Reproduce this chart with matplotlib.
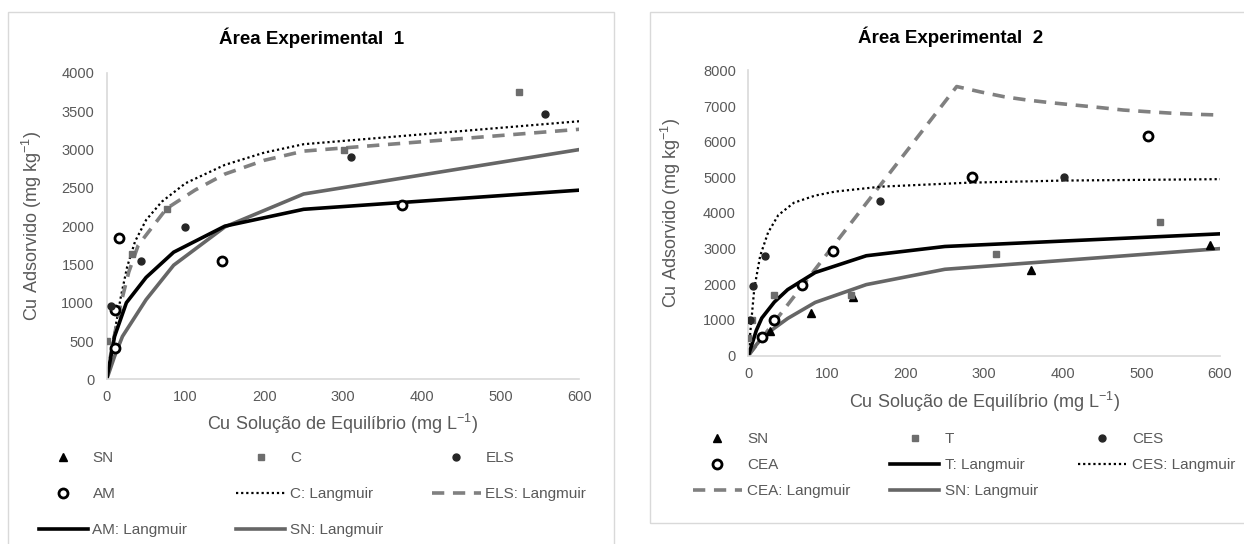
import matplotlib
matplotlib.use('Agg')
import matplotlib.pyplot as plt
from matplotlib.patches import Rectangle

plt.rcParams['font.family'] = ['Liberation Sans', 'DejaVu Sans']
plt.rcParams['mathtext.default'] = 'regular'

W, H = 1244, 544

# ---- Área Experimental 1 ----
sn1_x, sn1_y = [], []
c1_x = [1, 32, 77, 301, 524]
c1_y = [500, 1640, 2230, 3000, 3750]
els1_x = [6, 44, 99, 310, 557]
els1_y = [955, 1540, 1990, 2905, 3460]
am1_x = [10, 11, 16, 146, 375]
am1_y = [910, 415, 1845, 1540, 2270]

c1_lx = [0, 3, 9, 18, 26, 36, 50, 70, 100, 150, 200, 250, 600]
c1_ly = [0, 180, 560, 1080, 1470, 1800, 2080, 2320, 2560, 2800, 2960, 3070, 3370]
els1_lx = [0, 6, 18, 28, 40, 76, 112, 150, 200, 250, 600]
els1_ly = [0, 380, 990, 1400, 1750, 2230, 2470, 2680, 2860, 2980, 3265]
am1_lx = [0, 10, 25, 50, 85, 150, 250, 600]
am1_ly = [0, 560, 1000, 1330, 1660, 2000, 2220, 2470]
sn1_lx = [0, 10, 20, 50, 85, 150, 250, 600]
sn1_ly = [0, 300, 560, 1040, 1490, 1990, 2420, 3000]

# ---- Área Experimental 2 ----
sn2_x = [28, 80, 133, 360, 587]
sn2_y = [700, 1200, 1650, 2390, 3100]
t2_x = [0, 4, 32, 130, 315, 524]
t2_y = [500, 1000, 1700, 1700, 2845, 3760]
ces2_x = [2, 6, 21, 167, 401]
ces2_y = [1000, 1950, 2790, 4330, 5020]
cea2_x = [17, 33, 68, 108, 284, 508]
cea2_y = [510, 1000, 1990, 2940, 5000, 6160]

t2_lx = [0, 10, 17, 33, 50, 85, 150, 250, 600]
t2_ly = [0, 700, 1050, 1500, 1850, 2330, 2800, 3060, 3415]
ces2_lx = [0, 2.5, 7.5, 15, 25, 38, 58, 85, 110, 169, 279, 400, 600]
ces2_ly = [0, 670, 1880, 2800, 3450, 3940, 4290, 4490, 4600, 4740, 4850, 4910, 4950]
cea2_lx = [0, 265, 295, 325, 355, 385, 415, 445, 477, 507, 540, 570, 600]
cea2_ly = [0, 7550, 7400, 7265, 7170, 7095, 7030, 6965, 6890, 6845, 6800, 6770, 6750]
sn2_lx = [0, 10, 20, 50, 85, 150, 250, 600]
sn2_ly = [0, 300, 560, 1040, 1490, 1990, 2420, 3000]

TXT = '#595959'
AXC = '#d9d9d9'

black_solid = dict(color='black', lw=2.6, solid_joinstyle='miter')
gray_solid = dict(color='#666666', lw=2.6, solid_joinstyle='miter')
dotted = dict(color='black', lw=1.6, linestyle=(0, (1, 1.3)))
dashed = dict(color='#808080', lw=2.6, linestyle=(0, (3.4, 2.4)))
tri = dict(marker='^', color='black', ms=5.5, ls='none')
sq = dict(marker='s', color='#6d6d6d', ms=5, ls='none')
dot = dict(marker='o', color='#262626', ms=5, ls='none')
ring = dict(marker='o', mfc='white', mec='black', mew=2, ms=6.5, ls='none')

fig = plt.figure(figsize=(W / 100, H / 100), dpi=100)

# panel frames
fig.add_artist(Rectangle((8 / W, 1 - 600 / H), 606 / W, 588 / H, transform=fig.transFigure,
                         fill=False, ec=AXC, lw=1))
fig.add_artist(Rectangle((650 / W, 1 - 523 / H), 620 / W, 511 / H, transform=fig.transFigure,
                         fill=False, ec=AXC, lw=1))

ax1 = fig.add_axes([106.7 / W, 1 - 379.3 / H, 472.6 / W, 306.3 / H])
ax2 = fig.add_axes([748.4 / W, 1 - 355.5 / H, 471.6 / W, 285 / H])


def style(ax, ymax, ystep):
    ax.set_xlim(0, 600)
    ax.set_ylim(0, ymax)
    ax.set_xticks(range(0, 601, 100))
    ax.set_yticks(range(0, ymax + 1, ystep))
    for s in ['top', 'right']:
        ax.spines[s].set_visible(False)
    for s in ['left', 'bottom']:
        ax.spines[s].set_color(AXC)
        ax.spines[s].set_linewidth(1.2)
    ax.tick_params(length=0, labelsize=10.5, labelcolor=TXT)
    ax.tick_params(axis='y', pad=9)
    ax.tick_params(axis='x', pad=8)
    ax.set_ylabel('Cu Adsorvido (mg kg$^{-1}$)', fontsize=13, color=TXT)
    ax.set_xlabel('Cu Solução de Equilíbrio (mg L$^{-1}$)', fontsize=13, color=TXT, va='center')


# left chart
style(ax1, 4000, 500)
h_sn1, = ax1.plot(sn1_x, sn1_y, label='SN', **tri)
h_c1, = ax1.plot(c1_x, c1_y, label='C', **sq)
h_els1, = ax1.plot(els1_x, els1_y, label='ELS', **dot)
h_cl1, = ax1.plot(c1_lx, c1_ly, label='C: Langmuir', **dotted)
h_elsl1, = ax1.plot(els1_lx, els1_ly, label='ELS: Langmuir', **dashed)
h_snl1, = ax1.plot(sn1_lx, sn1_ly, label='SN: Langmuir', **gray_solid)
h_aml1, = ax1.plot(am1_lx, am1_ly, label='AM: Langmuir', **black_solid)
h_am1, = ax1.plot(am1_x, am1_y, label='AM', **ring)
for h in (h_c1, h_els1):
    h.set_zorder(4)
ax1.xaxis.set_label_coords(0.5, -0.146)
ax1.yaxis.set_label_coords(-0.133, 0.5)
fig.text(311.5 / W, 1 - 38 / H, 'Área Experimental  1', ha='center', va='center',
         fontsize=13.5, fontweight='bold')

# right chart
style(ax2, 8000, 1000)
h_sn2, = ax2.plot(sn2_x, sn2_y, label='SN', **tri)
h_t2, = ax2.plot(t2_x, t2_y, label='T', **sq)
h_ces2, = ax2.plot(ces2_x, ces2_y, label='CES', **dot)
h_ceal2, = ax2.plot(cea2_lx, cea2_ly, label='CEA: Langmuir', **dashed)
h_cesl2, = ax2.plot(ces2_lx, ces2_ly, label='CES: Langmuir', **dotted)
h_snl2, = ax2.plot(sn2_lx, sn2_ly, label='SN: Langmuir', **gray_solid)
h_tl2, = ax2.plot(t2_lx, t2_ly, label='T: Langmuir', **black_solid)
h_cea2, = ax2.plot(cea2_x, cea2_y, label='CEA', **ring)
for h in (h_sn2, h_t2, h_ces2):
    h.set_zorder(4)
ax2.xaxis.set_label_coords(0.5, -0.163)
ax2.yaxis.set_label_coords(-0.139, 0.5)
fig.text(951 / W, 1 - 37 / H, 'Área Experimental  2', ha='center', va='center',
         fontsize=13.5, fontweight='bold')

# legends (column-major order to reproduce Excel's row layout)
leg1 = [h_sn1, h_am1, h_aml1, h_c1, h_cl1, h_snl1, h_els1, h_elsl1]
fig.legend(leg1, [h.get_label() for h in leg1], ncol=3, frameon=False,
           loc='upper left', bbox_to_anchor=(39 / W, 1 - 451 / H),
           fontsize=11, labelcolor=TXT, handlelength=3.2, handletextpad=0.3,
           columnspacing=3.2, labelspacing=1.45, borderpad=0, borderaxespad=0)

leg2 = [h_sn2, h_cea2, h_ceal2, h_t2, h_tl2, h_snl2, h_ces2, h_cesl2]
fig.legend(leg2, [h.get_label() for h in leg2], ncol=3, frameon=False,
           loc='upper left', bbox_to_anchor=(693 / W, 1 - 432 / H),
           fontsize=11, labelcolor=TXT, handlelength=3.2, handletextpad=0.35,
           columnspacing=2.6, labelspacing=0.8, borderpad=0, borderaxespad=0)

fig.savefig('out.png', dpi=100)
